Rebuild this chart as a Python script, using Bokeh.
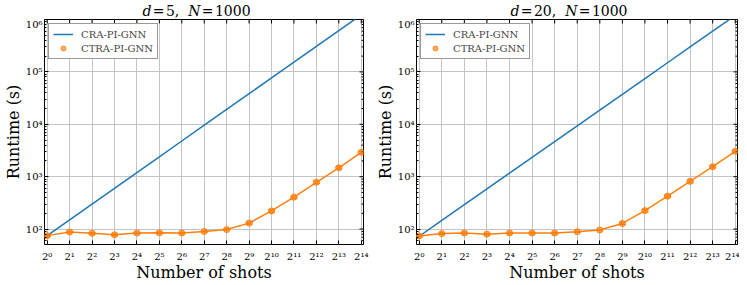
import math
from bokeh.plotting import figure
from bokeh.models import (ColumnDataSource, Range1d, FixedTicker, Whisker, TeeHead,
                          Legend, LegendItem, Div)
from bokeh.layouts import row, column
from bokeh.embed import file_html
from bokeh.resources import INLINE

# ---------------- data ----------------
shots = [1, 2, 4, 8, 16, 32, 64, 128, 256, 512, 1024, 2048, 4096, 8192, 16384]
shot_labels = ["2⁰", "2¹", "2²", "2³", "2⁴", "2⁵", "2⁶", "2⁷", "2⁸", "2⁹",
               "2¹⁰", "2¹¹", "2¹²", "2¹³", "2¹⁴"]
y_ticks = [100, 1000, 10000, 100000, 1000000]
y_tick_labels = ["10²", "10³", "10⁴", "10⁵", "10⁶"]

# d = 5
cra_d5 = [75, 150, 300, 600, 1200, 2400, 4800, 9600, 19200, 38400,
          76800, 153600, 307200, 614400, 1228800]
ctra_d5 = [75, 88, 83, 78, 84, 85, 84, 90, 98, 130, 222, 407, 782, 1480, 2920]
ctra_d5_err = [3, 3, 3, 3, 3, 3, 3, 3, 3, 6, 12, 20, 40, 70, 140]

# d = 20
cra_d20 = [73, 146, 292, 584, 1168, 2336, 4672, 9344, 18688, 37376,
           74752, 149504, 299008, 598016, 1196032]
ctra_d20 = [74, 82, 84, 80, 84, 84, 84, 89, 96, 128, 225, 425, 815, 1550, 3050]
ctra_d20_err = [3, 3, 4, 3, 3, 3, 3, 3, 3, 6, 12, 22, 42, 75, 150]

BLUE = "#1f77b4"
ORANGE = "#ff7f0e"
FONT = "DejaVu Serif"

X_MIN, X_MAX = 2 ** -0.12, 2 ** 14.1
Y_MIN, Y_MAX = 50.8, 1e6
minor_y = [m * 10 ** e for e in range(1, 6) for m in range(2, 10) if m * 10 ** e > Y_MIN]


def make_panel(cra, ctra, err, fw, bl, br):
    p = figure(frame_width=fw, frame_height=225, x_axis_type="log", y_axis_type="log",
               x_range=Range1d(X_MIN, X_MAX), y_range=Range1d(Y_MIN, Y_MAX),
               output_backend="svg", toolbar_location=None,
               min_border_left=bl, min_border_right=br, min_border_top=1,
               min_border_bottom=0, margin=0,
               x_axis_label="Number of shots", y_axis_label="Runtime (s)")
    p.title = None
    p.outline_line_color = "black"
    p.outline_line_width = 1
    p.background_fill_color = "white"
    p.border_fill_color = "white"

    xt = FixedTicker(ticks=shots, minor_ticks=[])
    yt = FixedTicker(ticks=y_ticks, minor_ticks=minor_y)
    p.xaxis.ticker = xt
    p.yaxis.ticker = yt
    p.xaxis.major_label_overrides = {s: l for s, l in zip(shots, shot_labels)}
    p.yaxis.major_label_overrides = {t: l for t, l in zip(y_ticks, y_tick_labels)}
    for ax in p.xaxis + p.yaxis:
        ax.axis_line_color = None
        ax.major_tick_in = 4
        ax.major_tick_out = 0
        ax.minor_tick_in = 2
        ax.minor_tick_out = 0
        ax.major_tick_line_color = "black"
        ax.minor_tick_line_color = "black"
        ax.major_label_text_font = FONT
        ax.axis_label_text_font = FONT
        ax.axis_label_text_font_style = "normal"
        ax.axis_label_text_color = "black"
        ax.major_label_text_color = "black"
        ax.major_label_text_font_size = "10px"
        ax.axis_label_text_font_size = "16px"
        ax.major_label_text_line_height = 1.0
        ax.axis_label_text_line_height = 1.0
    p.xaxis.major_label_standoff = 6
    p.yaxis.major_label_standoff = 2
    p.xaxis.axis_label_standoff = -2
    p.yaxis.axis_label_standoff = 0
    p.xaxis.minor_tick_line_color = None

    p.xgrid.ticker = xt
    p.ygrid.ticker = yt
    for g in (p.xgrid, p.ygrid):
        g.grid_line_color = "#c4c4c4"
        g.grid_line_width = 1

    # inward ticks on the top and right edges (outer half of each dash is clipped by the frame)
    p.scatter(x=shots, y=[Y_MAX] * len(shots), marker="dash", angle=math.pi / 2,
              size=8, line_color="black", line_width=1)
    p.scatter(x=[X_MAX] * len(y_ticks), y=y_ticks, marker="dash",
              size=8, line_color="black", line_width=1)
    p.scatter(x=[X_MAX] * len(minor_y), y=minor_y, marker="dash",
              size=4, line_color="black", line_width=1)

    cra_r = p.line(shots, cra, line_color=BLUE, line_width=1.5)

    src = ColumnDataSource(dict(x=shots, y=ctra,
                                lo=[v - e for v, e in zip(ctra, err)],
                                hi=[v + e for v, e in zip(ctra, err)]))
    p.line("x", "y", source=src, line_color=ORANGE, line_width=1.5)
    wh = Whisker(base="x", upper="hi", lower="lo", source=src,
                 line_color=ORANGE, line_width=1.2,
                 upper_head=TeeHead(size=7, line_color=ORANGE, line_width=1.2),
                 lower_head=TeeHead(size=7, line_color=ORANGE, line_width=1.2))
    p.add_layout(wh)
    dot_r = p.scatter("x", "y", source=src, size=6, marker="circle", line_color=ORANGE,
                      fill_color=ORANGE, fill_alpha=0.6)

    leg = Legend(items=[LegendItem(label="CRA-PI-GNN", renderers=[cra_r]),
                        LegendItem(label="CTRA-PI-GNN", renderers=[dot_r])],
                 location="top_left")
    leg.label_text_font = FONT
    leg.label_text_font_size = "10px"
    leg.label_height = 12
    leg.glyph_height = 12
    leg.glyph_width = 20
    leg.label_standoff = 8
    leg.spacing = 2
    leg.padding = 4
    leg.margin = 4
    leg.border_line_color = "#333333"
    leg.border_line_width = 1
    leg.background_fill_color = "white"
    leg.background_fill_alpha = 1
    p.add_layout(leg, "center")
    return p


def title_div(dval, width, pad_left):
    html = ("<div style=\"width:%dpx;box-sizing:border-box;padding-left:%dpx;"
            "padding-top:4px;text-align:center;font-family:'DejaVu Serif';font-size:14px;"
            "line-height:14px;color:black;white-space:nowrap\">"
            "<i>d</i>&#8202;=&#8202;%s,&nbsp;&nbsp;<i>N</i>&#8202;=&#8202;1000</div>"
            % (width, pad_left, dval))
    return Div(text=html, width=width, height=18, margin=0)


p1 = make_panel(cra_d5, ctra_d5, ctra_d5_err, 319, 37, 9)
p2 = make_panel(cra_d20, ctra_d20, ctra_d20_err, 321, 43, 2)
t1 = title_div("5", 365, 28)
t2 = title_div("20", 366, 42)

layout = column(row(t1, t2, margin=0, spacing=0), row(p1, p2, margin=0, spacing=0),
                margin=0, spacing=0)
open("out.html", "w").write(file_html(layout, INLINE))
